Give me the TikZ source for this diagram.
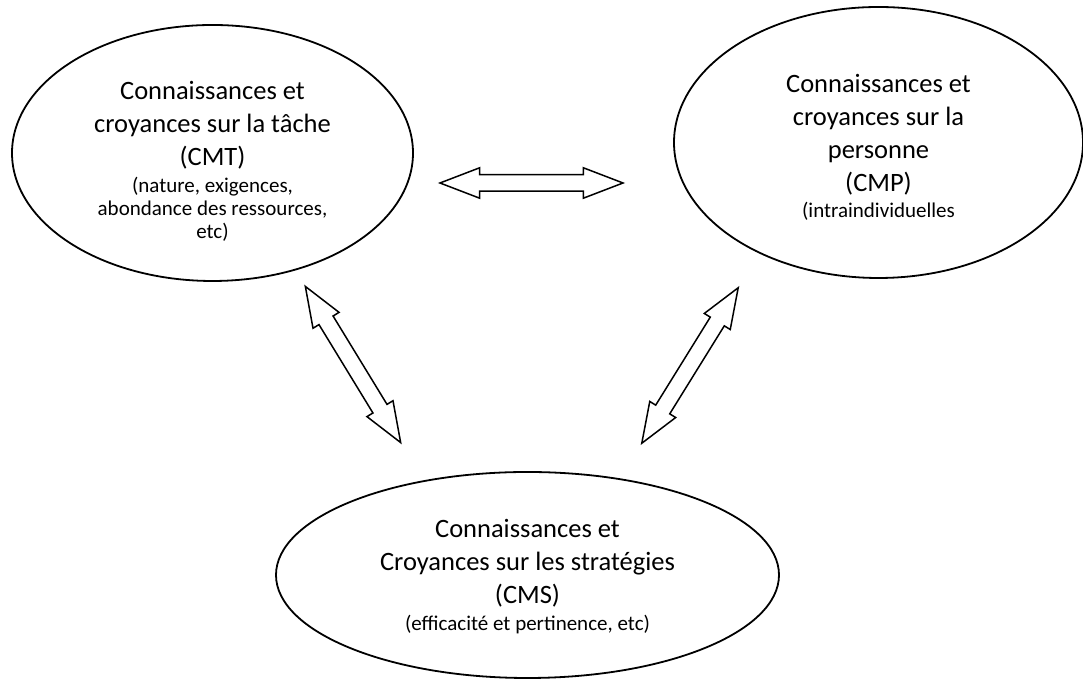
\documentclass[tikz,border=0pt]{standalone}
\usepackage{fontspec}
\setmainfont{Carlito}
\usetikzlibrary{shapes.geometric,shapes.arrows}
\newcommand\minor{\fontsize{10.5}{12.5}\selectfont}

\begin{document}
\begin{tikzpicture}[x=0.5pt,y=0.5pt,line join=miter]
	\tikzset{
		belief/.style={draw,ellipse,line width=0.9pt,inner sep=0pt},
		belieftext/.style={inner sep=0pt,align=center,
			font=\fontsize{13.25}{16.5}\selectfont},
		linkarrow/.style={draw,double arrow,line width=0.75pt,minimum height=91.5pt,
			inner xsep=0pt,inner ysep=3.75pt,double arrow head extend=3.5pt,
			double arrow tip angle=42,rotate=#1}
	}
	\useasboundingbox (0,0) rectangle (1083,679);
	% the three kinds of knowledge
	\node[belief,minimum width=200.5pt,minimum height=128pt] (cmt) at (212.5,526) {};
	\node[belief,minimum width=204.5pt,minimum height=135.5pt] (cmp) at (878.5,536.5) {};
	\node[belief,minimum width=251.5pt,minimum height=103pt] (cms) at (527.5,104) {};
	\node[belieftext] (cmttext) at ([yshift=-4pt]cmt.center)
		{Connaissances et\\croyances sur la tâche\\(CMT)\\[-3pt]\minor(nature, exigences,\\[-5pt]\minor abondance des ressources,\\[-5pt]\minor etc)};
	\node[belieftext] (cmptext) at ([yshift=-2.5pt]cmp.center)
		{Connaissances et\\croyances sur la\\personne\\(CMP)\\[-3.5pt]\minor(intraindividuelles};
	\node[belieftext] (cmstext) at ([yshift=-1pt]cms.center)
		{Connaissances et\\Croyances sur les stratégies\\(CMS)\\[-3pt]\minor(efficacité et pertinence, etc)};
	% links between them
	\node[linkarrow=0] (tp) at (531.5,496) {};
	\node[linkarrow=-58.6] (ts) at (353,314.5) {};
	\node[linkarrow=58.2] (ps) at (690,313.5) {};
\end{tikzpicture}
\end{document}
